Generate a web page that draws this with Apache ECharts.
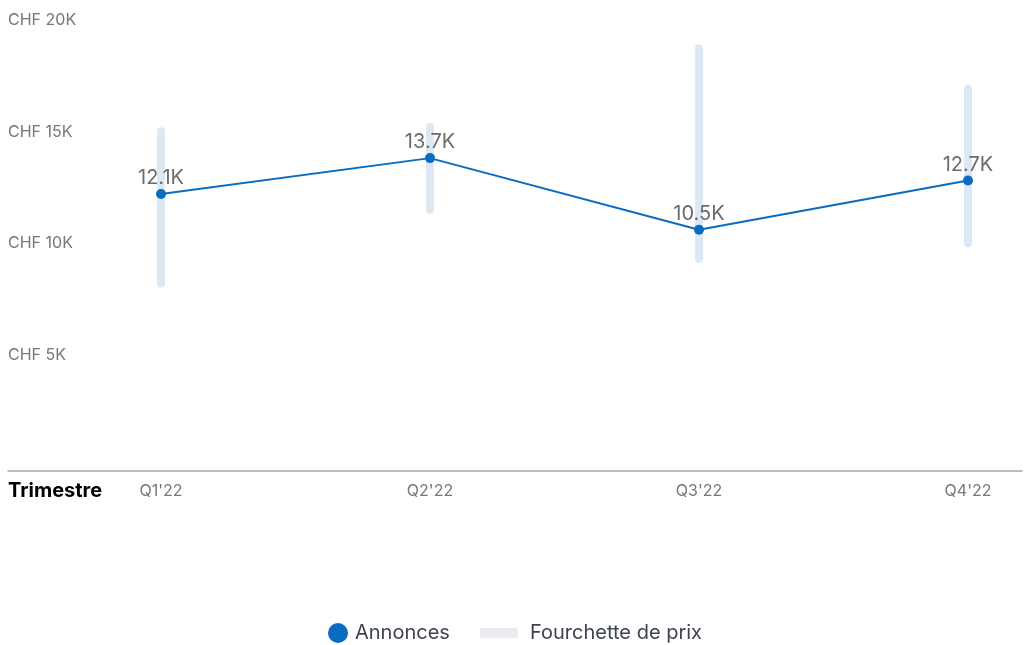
<!DOCTYPE html>
<html>
<head>
<meta charset="utf-8">
<script src="https://cdn.jsdelivr.net/npm/echarts@6/dist/echarts.min.js"></script>
<style>html,body{margin:0;padding:0;background:#fff}#c{width:1024px;height:645px}</style>
</head>
<body>
<div id="c"></div>
<script>
const categories = ["Q1'22", "Q2'22", "Q3'22", "Q4'22"];
const annonces = [12100, 13700, 10500, 12700];
const rangeLow = [8100, 11400, 9200, 9900];
const rangeHigh = [14900, 15100, 18600, 16800];
const yTicks = [0, 5000, 10000, 15000, 20000];

const FONT = 'Inter, "Noto Sans", sans-serif';
const rangeData = categories.map((c, i) => [i, rangeLow[i], rangeHigh[i]]);

const chart = echarts.init(document.getElementById('c'));
chart.setOption({
  animation: false,
  textStyle: { fontFamily: FONT },
  grid: [
    { left: 161, right: 56, top: 17, bottom: 180 },
    { left: 8, right: 2, top: 20, bottom: 178 },
    { left: 8, right: 2, top: 20, bottom: 174 }
  ],
  xAxis: [
    {
      type: 'category', gridIndex: 0, data: categories, boundaryGap: false,
      axisLine: { show: false }, axisTick: { show: false },
      axisLabel: { color: '#777', fontSize: 16, margin: 18, fontFamily: FONT }
    },
    {
      type: 'value', gridIndex: 1, min: 0, max: 1, show: false
    },
    {
      type: 'value', gridIndex: 2, min: 0, max: 1,
      axisLine: { show: true, lineStyle: { color: '#a8a8a8', width: 1.5 } },
      axisTick: { show: false }, axisLabel: { show: false }, splitLine: { show: false },
      name: 'Trimestre', nameLocation: 'start', nameGap: 0,
      nameTextStyle: { align: 'left', verticalAlign: 'top', padding: [10, 0, 0, 0], color: '#000', fontWeight: 'bold', fontSize: 20, fontFamily: FONT }
    }
  ],
  yAxis: [
    {
      type: 'value', gridIndex: 0, min: yTicks[0], max: yTicks[yTicks.length - 1], interval: 5000,
      show: false
    },
    {
      type: 'value', gridIndex: 1, min: yTicks[0], max: yTicks[yTicks.length - 1], interval: 5000,
      axisLine: { show: false }, axisTick: { show: false }, splitLine: { show: false },
      axisLabel: {
        inside: true, margin: 0, color: '#777', fontSize: 16, fontFamily: FONT,
        formatter: v => v === 0 ? '' : 'CHF ' + (v / 1000) + 'K'
      }
    },
    {
      type: 'value', gridIndex: 2, min: 0, max: 1, show: false
    }
  ],
  legend: [
    {
      data: [{ name: 'Annonces', icon: 'circle', itemStyle: { color: '#0a6bc2' } }],
      left: 328, top: 623, padding: 0, itemWidth: 20, itemHeight: 20, itemGap: 8,
      textStyle: { color: '#3d4350', fontSize: 20, fontFamily: FONT, padding: [0, 0, 0, 2] }
    },
    {
      data: [{ name: 'Fourchette de prix', icon: 'roundRect', itemStyle: { color: '#e9ebef' } }],
      left: 480, top: 623, padding: 0, itemWidth: 38, itemHeight: 10, itemGap: 8,
      textStyle: { color: '#3d4350', fontSize: 20, fontFamily: FONT, padding: [0, 0, 0, 7] }
    }
  ],
  series: [
    {
      name: 'Fourchette de prix', type: 'custom', xAxisIndex: 0, yAxisIndex: 0, z: 1,
      itemStyle: { color: '#dce9f5' },
      data: rangeData,
      renderItem: function (params, api) {
        const a = api.coord([api.value(0), api.value(1)]);
        const b = api.coord([api.value(0), api.value(2)]);
        return {
          type: 'line',
          shape: { x1: a[0], y1: a[1], x2: b[0], y2: b[1] },
          style: { stroke: '#dce9f5', lineWidth: 8, lineCap: 'round' }
        };
      }
    },
    {
      name: 'Annonces', type: 'line', xAxisIndex: 0, yAxisIndex: 0, z: 5,
      data: annonces, symbol: 'circle', symbolSize: 10,
      lineStyle: { color: '#0a6bc2', width: 2 },
      itemStyle: { color: '#0a6bc2' },
      label: {
        show: true, position: 'top', distance: 1, color: '#6b6b6b', fontSize: 20, fontFamily: FONT,
        formatter: p => (p.value / 1000).toFixed(1) + 'K'
      }
    }
  ]
});
</script>
</body>
</html>
